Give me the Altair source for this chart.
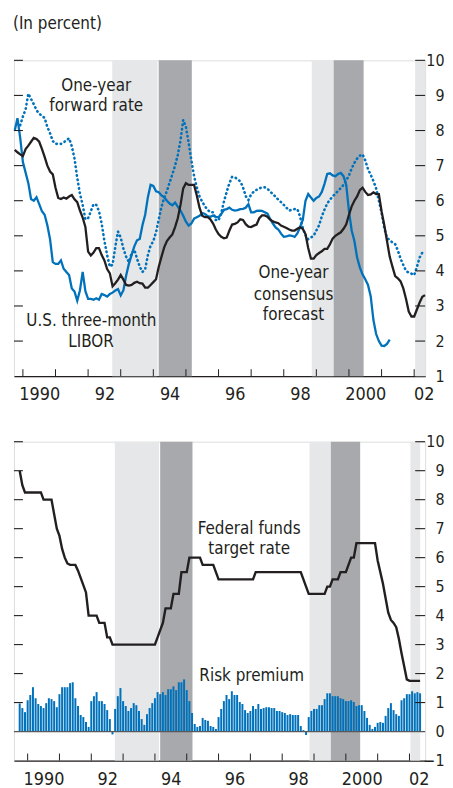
import altair as alt
import pandas as pd

FONT = "DejaVu Sans Condensed"
BLUE = "#0072bc"
INK = "#231f20"
LIGHT = "#e6e7e8"
DARK = "#a7a9ac"
FS_NOTE = 17
FS_X = 18
FS_Y = 16

# Monthly data, first month = October 1989 (decimal year of month start)
FIRST_MONTH = 1989.75
X_MIN, X_MAX = 1989.726, 2002.336

# U.S. three-month LIBOR (Oct 1989 ...)
libor_3m = [
    8.0, 8.35, 7.8,
    7.1, 6.8, 6.5, 6.05, 6.0, 6.1, 5.9, 5.7, 5.6, 5.3, 4.9, 4.25,
    4.2, 4.2, 4.3, 4.06, 3.97, 3.88, 3.5, 3.41, 3.15, 3.45, 3.97, 3.42,
    3.2, 3.2, 3.18, 3.22, 3.18, 3.34, 3.31, 3.27, 3.34, 3.38, 3.44, 3.48,
    3.3, 3.45, 3.87, 4.2, 4.45, 4.7, 4.87, 4.91, 5.3, 5.6, 6.1, 6.45,
    6.42, 6.27, 6.24, 6.15, 6.1, 6.0, 5.92, 5.87, 5.95, 5.83, 5.72, 5.57,
    5.4, 5.29, 5.35, 5.49, 5.53, 5.57, 5.65, 5.62, 5.56, 5.54, 5.58, 5.54,
    5.53, 5.62, 5.74, 5.76, 5.8, 5.74, 5.72, 5.73, 5.76, 5.77, 5.8, 5.9,
    5.67, 5.67, 5.71, 5.72, 5.71, 5.67, 5.63, 5.48, 5.35, 5.24, 5.18, 5.06,
    4.97, 4.98, 5.01, 5.0, 4.97, 5.07, 5.25, 5.45, 6.0, 6.19, 6.09, 6.0,
    6.08, 6.12, 6.25, 6.48, 6.76, 6.78, 6.72, 6.7, 6.76, 6.79, 6.7, 6.45,
    5.7, 5.15, 4.85, 4.38, 4.1, 3.9, 3.76, 3.6, 3.28, 2.6, 2.2, 2.0,
    1.87, 1.86, 1.92, 2.04,
]

# One-year consensus forecast (Oct 1989 ...)
consensus = [
    7.45, 7.38, 7.32,
    7.27, 7.47, 7.57, 7.68, 7.79, 7.76, 7.68, 7.48, 7.25, 7.0, 6.83, 6.75,
    6.37, 6.08, 6.05, 6.09, 6.06, 6.12, 6.16, 6.04, 5.96, 5.72, 5.52, 5.25,
    4.55, 4.44, 4.52, 4.65, 4.65, 4.45, 4.3, 4.05, 3.93, 3.56, 3.65, 3.75,
    3.88, 3.75, 3.6, 3.58, 3.6, 3.66, 3.69, 3.65, 3.64, 3.52, 3.52, 3.6,
    3.68, 3.76, 4.12, 4.4, 4.67, 4.85, 4.95, 5.04, 5.25, 5.5, 5.88, 6.35,
    6.5, 6.45, 6.45, 6.45, 6.15, 5.8, 5.57, 5.53, 5.53, 5.47, 5.35, 5.18,
    5.05, 4.97, 4.93, 4.95, 5.15, 5.32, 5.34, 5.38, 5.47, 5.45, 5.33, 5.26,
    5.25, 5.29, 5.32, 5.5, 5.58, 5.58, 5.54, 5.46, 5.41, 5.38, 5.36, 5.29,
    5.26, 5.22, 5.18, 5.15, 5.15, 5.2, 5.24, 5.2, 5.05, 4.65, 4.35, 4.35,
    4.45, 4.51, 4.56, 4.63, 4.63, 4.76, 4.92, 5.0, 5.05, 5.1, 5.2, 5.33,
    5.6, 5.84, 6.0, 6.12, 6.3, 6.37, 6.25, 6.16, 6.18, 6.24, 6.19, 6.19,
    5.7, 5.3, 4.85, 4.4, 4.12, 3.85, 3.79, 3.7, 3.5, 3.2, 2.84, 2.7,
    2.7, 2.9, 3.1, 3.26, 3.31,
]

# One-year forward rate (Dec 1989 ...)
FORWARD_OFFSET = 2
forward = [
    8.15,
    8.4, 8.6, 9.05, 8.9, 8.75, 8.58, 8.48, 8.42, 8.36, 8.1, 7.92, 7.7,
    7.62, 7.62, 7.62, 7.66, 7.72, 7.78, 7.55, 7.2, 6.65, 6.2, 5.88, 5.47,
    5.5, 5.7, 5.9, 5.88, 5.7, 5.35, 4.85, 4.45, 4.12, 4.18, 4.68, 5.12,
    4.95, 4.63, 4.4, 4.25, 4.5, 4.6, 4.35, 4.12, 3.97, 4.05, 4.45, 4.72,
    4.85, 5.1, 5.47, 5.82, 6.08, 6.28, 6.52, 6.75, 7.0, 7.3, 7.72, 8.3,
    8.1, 7.65, 7.15, 6.7, 6.38, 6.12, 5.97, 5.84, 5.74, 5.67, 5.67, 5.45,
    5.44, 5.65, 5.98, 6.25, 6.5, 6.68, 6.67, 6.61, 6.55, 6.38, 6.13, 6.02,
    6.18, 6.26, 6.31, 6.35, 6.38, 6.38, 6.34, 6.26, 6.19, 6.11, 6.03, 5.96,
    5.88, 5.8, 5.72, 5.74, 5.76, 5.76, 5.55, 5.22, 5.02, 4.9, 4.95, 5.0,
    5.15, 5.3, 5.55, 5.75, 5.92, 6.03, 6.12, 6.2, 6.28, 6.36, 6.45, 6.58,
    6.72, 6.92, 7.08, 7.2, 7.28, 7.32, 7.15, 6.9, 6.74, 6.56, 6.35, 6.0,
    5.65, 5.22, 4.95, 4.87, 4.81, 4.76, 4.58, 4.35, 4.17, 4.0, 3.95, 3.92,
    3.88, 4.11, 4.38, 4.52, 4.56,
]

# Federal funds target rate (Oct 1989 ...)
fed_funds = [
    9.0, 8.5, 8.25,
    8.25, 8.25, 8.25, 8.25, 8.25, 8.25, 8.0, 8.0, 8.0, 8.0, 7.5, 7.0,
    6.75, 6.3, 6.0, 5.8, 5.75, 5.75, 5.75, 5.55, 5.3, 5.05, 4.8, 4.0,
    4.0, 4.0, 4.0, 3.75, 3.75, 3.75, 3.25, 3.25, 3.0, 3.0, 3.0, 3.0,
    3.0, 3.0, 3.0, 3.0, 3.0, 3.0, 3.0, 3.0, 3.0, 3.0, 3.0, 3.0,
    3.0, 3.25, 3.5, 3.75, 4.25, 4.25, 4.25, 4.75, 4.75, 4.75, 5.5, 5.5,
    5.5, 6.0, 6.0, 6.0, 6.0, 6.0, 5.75, 5.75, 5.75, 5.75, 5.75, 5.5,
    5.25, 5.25, 5.25, 5.25, 5.25, 5.25, 5.25, 5.25, 5.25, 5.25, 5.25, 5.25,
    5.25, 5.25, 5.5, 5.5, 5.5, 5.5, 5.5, 5.5, 5.5, 5.5, 5.5, 5.5,
    5.5, 5.5, 5.5, 5.5, 5.5, 5.5, 5.5, 5.5, 5.25, 5.0, 4.75, 4.75,
    4.75, 4.75, 4.75, 4.75, 4.75, 5.0, 5.0, 5.25, 5.25, 5.25, 5.5, 5.5,
    5.5, 5.75, 6.0, 6.0, 6.5, 6.5, 6.5, 6.5, 6.5, 6.5, 6.5, 6.5,
    5.9, 5.5, 5.1, 4.6, 4.1, 3.85, 3.75, 3.6, 3.2, 2.7, 2.25, 1.8,
    1.75, 1.75, 1.75, 1.75, 1.75,
]

# Risk premium (Oct 1989 ...)
risk_premium = [
    0.97, 0.81, 0.67,
    1.08, 1.26, 1.53, 1.15, 0.95, 0.88, 0.81, 0.98, 1.15, 1.12, 1.05, 0.84,
    1.29, 1.53, 1.53, 1.53, 1.67, 1.70, 1.15, 0.88, 0.57, 0.50, 0.33, 0.16,
    1.05, 1.22, 1.36, 1.05, 1.05, 0.95, 0.74, 0.43, -0.10, 0.78, 1.22, 1.50,
    1.05, 0.88, 0.71, 0.81, 0.98, 0.91, 0.71, 0.43, 0.23, 0.60, 0.81, 0.98,
    1.15, 1.36, 1.29, 1.36, 1.26, 1.46, 1.46, 1.56, 1.43, 1.70, 1.70, 1.80,
    1.43, 1.05, 0.64, 0.26, 0.16, 0.19, 0.47, 0.40, 0.37, 0.19, 0.16, 0.09,
    0.50, 0.78, 1.05, 1.26, 1.12, 1.39, 1.26, 1.26, 1.02, 0.95, 0.74, 0.64,
    0.71, 0.88, 0.78, 0.95, 0.78, 0.81, 0.84, 0.84, 0.81, 0.81, 0.71, 0.71,
    0.67, 0.64, 0.57, 0.60, 0.57, 0.57, 0.57, 0.19, 0.05, -0.12, 0.50, 0.71,
    0.78, 0.78, 0.91, 0.91, 1.12, 1.32, 1.32, 1.22, 1.22, 1.22, 1.15, 1.12,
    1.05, 1.05, 1.08, 1.02, 0.88, 0.91, 0.91, 0.71, 0.47, 0.23, 0.09, 0.16,
    0.30, 0.33, 0.30, 0.54, 0.81, 0.98, 0.74, 0.60, 0.54, 1.08, 1.15, 1.29,
    1.29, 1.39, 1.32, 1.36, 1.32,
]

# Shaded periods
band_start = [1992.74, 1994.165, 1998.86, 1999.53, 2002.03]
band_end = [1994.13, 1995.18, 1999.53, 2000.45, X_MAX]
band_shade = ["light", "dark", "light", "dark", "light"]

# Axes
year_ticks = list(range(1990, 2003))
year_label_pos = [1990.5, 1992.5, 1994.5, 1996.5, 1998.5, 2000.5, 2002.29]
year_labels = ["1990", "92", "94", "96", "98", "2000", "02"]
top_y_ticks = list(range(1, 11))
bottom_y_ticks = list(range(-1, 11))

# Annotations
top_notes_text = ["One-year", "forward rate", "U.S. three-month", "LIBOR",
                  "One-year", "consensus", "forecast"]
top_notes_x = [1992.25, 1992.25, 1992.1, 1992.09, 1998.3, 1998.3, 1998.3]
top_notes_y = [9.14, 8.57, 2.43, 1.84, 3.79, 3.18, 2.59]
bottom_notes_text = ["Federal funds", "target rate", "Risk premium"]
bottom_notes_x = [1996.96, 1996.96, 1997.04]
bottom_notes_y = [6.82, 6.12, 1.75]

W = 414
H1 = 318
H2 = 321


def months_from(offset, n):
    return [FIRST_MONTH + (offset + k) / 12 for k in range(n)]


libor_df = pd.DataFrame({"t": months_from(0, len(libor_3m)), "v": libor_3m})
cons_df = pd.DataFrame({"t": months_from(0, len(consensus)), "v": consensus})
fwd_df = pd.DataFrame({"t": months_from(FORWARD_OFFSET, len(forward)), "v": forward})
fed_df = pd.DataFrame({"t": months_from(0, len(fed_funds)), "v": fed_funds})
risk_df = pd.DataFrame({"t": months_from(0, len(risk_premium)), "v": risk_premium})
bands_df = pd.DataFrame({"s": band_start, "e": band_end, "shade": band_shade})
years_df = pd.DataFrame({"yr": year_ticks})

label_expr = "''"
for p, lab in reversed(list(zip(year_label_pos, year_labels))):
    label_expr = f"abs(datum.value - {p}) < 0.01 ? '{lab}' : ({label_expr})"

xs = alt.Scale(domain=[X_MIN, X_MAX], nice=False, zero=False)
x_axis = alt.Axis(values=year_label_pos, labelExpr=label_expr, ticks=False,
                  tickSize=0, domain=True, domainColor=INK, domainWidth=1.3,
                  grid=False, title=None, labelFlush=False, labelOverlap=False,
                  labelPadding=10, labelFontSize=FS_X, labelColor=INK, labelFont=FONT)


def build_panel(height, ydomain, yticks, left_ticks, right_ticks, notes):
    ys = alt.Scale(domain=ydomain, nice=False, zero=False)
    y_axis = alt.Axis(orient="right", values=yticks, ticks=False, tickSize=0,
                      domain=False, grid=False, title=None, labelPadding=19,
                      labelAlign="right", labelFontSize=FS_Y, labelColor=INK,
                      labelFont=FONT)

    def X(f):
        return alt.X(f, scale=xs, axis=x_axis)

    def Y(f):
        return alt.Y(f, scale=ys, axis=y_axis)

    bands = alt.Chart(bands_df).mark_rect().encode(
        x=X("s:Q"), x2="e:Q",
        color=alt.Color("shade:N", scale=alt.Scale(domain=["light", "dark"],
                                                   range=[LIGHT, DARK]), legend=None),
    )
    xt = alt.Chart(years_df).mark_rule(color=INK, strokeWidth=1).encode(
        x=X("yr:Q"), y=alt.value(height - 7), y2=alt.value(height))
    lt = alt.Chart(pd.DataFrame({"v": left_ticks})).mark_rule(
        color=INK, strokeWidth=1.1).encode(y=Y("v:Q"), x=alt.value(0), x2=alt.value(9))
    rt = alt.Chart(pd.DataFrame({"v": right_ticks})).mark_rule(
        color=INK, strokeWidth=1.1).encode(y=Y("v:Q"), x=alt.value(W - 10), x2=alt.value(W))
    txt = alt.Chart(pd.DataFrame(notes)).mark_text(
        font=FONT, fontSize=FS_NOTE, color=INK, align="center", baseline="alphabetic"
    ).encode(x=X("x:Q"), y=Y("y:Q"), text="label:N")
    return X, Y, bands, xt, lt, rt, txt


X1, Y1, bands1, xt1, lt1, rt1, txt1 = build_panel(
    H1, [1, 10], top_y_ticks, list(range(2, 11)), list(range(2, 11)),
    {"x": top_notes_x, "y": top_notes_y, "label": top_notes_text})

fwd_line = alt.Chart(fwd_df).mark_line(
    color=BLUE, strokeWidth=2.6, strokeDash=[0.5, 3.9], strokeCap="round"
).encode(x=X1("t:Q"), y=Y1("v:Q"))
libor_line = alt.Chart(libor_df).mark_line(color=BLUE, strokeWidth=2.3).encode(
    x=X1("t:Q"), y=Y1("v:Q"))
cons_line = alt.Chart(cons_df).mark_line(color=INK, strokeWidth=2.3).encode(
    x=X1("t:Q"), y=Y1("v:Q"))
title = alt.Chart(pd.DataFrame({"t": ["(In percent)"]})).mark_text(
    font=FONT, fontSize=FS_NOTE, color=INK, align="left", baseline="alphabetic"
).encode(x=alt.value(-1), y=alt.value(-32), text="t:N")

top = alt.layer(bands1, fwd_line, libor_line, cons_line, txt1, xt1, lt1, rt1, title
                ).properties(width=W, height=H1)

X2, Y2, bands2, xt2, lt2, rt2, txt2 = build_panel(
    H2, [-1, 10], bottom_y_ticks, list(range(1, 11)), list(range(1, 11)),
    {"x": bottom_notes_x, "y": bottom_notes_y, "label": bottom_notes_text})

zero = alt.Chart(pd.DataFrame({"v": [0]})).mark_rule(color="#58595b", strokeWidth=1.3
                                                     ).encode(y=Y2("v:Q"))
bars = alt.Chart(risk_df).mark_bar(color=BLUE, size=2).encode(
    x=X2("t:Q"), y=Y2("v:Q"), y2=alt.datum(0))
fed_line = alt.Chart(fed_df).mark_line(color=INK, strokeWidth=2.4).encode(
    x=X2("t:Q"), y=Y2("v:Q"))

bottom = alt.layer(bands2, bars, zero, fed_line, txt2, xt2, lt2, rt2
                   ).properties(width=W, height=H2)

chart = alt.vconcat(top, bottom, spacing=66, bounds="flush").properties(
    padding={"left": 1, "top": 3, "right": 0, "bottom": 0}
).configure_view(stroke=None).configure(font=FONT)

chart.save("out.html", embed_options={"renderer": "svg", "actions": False})
